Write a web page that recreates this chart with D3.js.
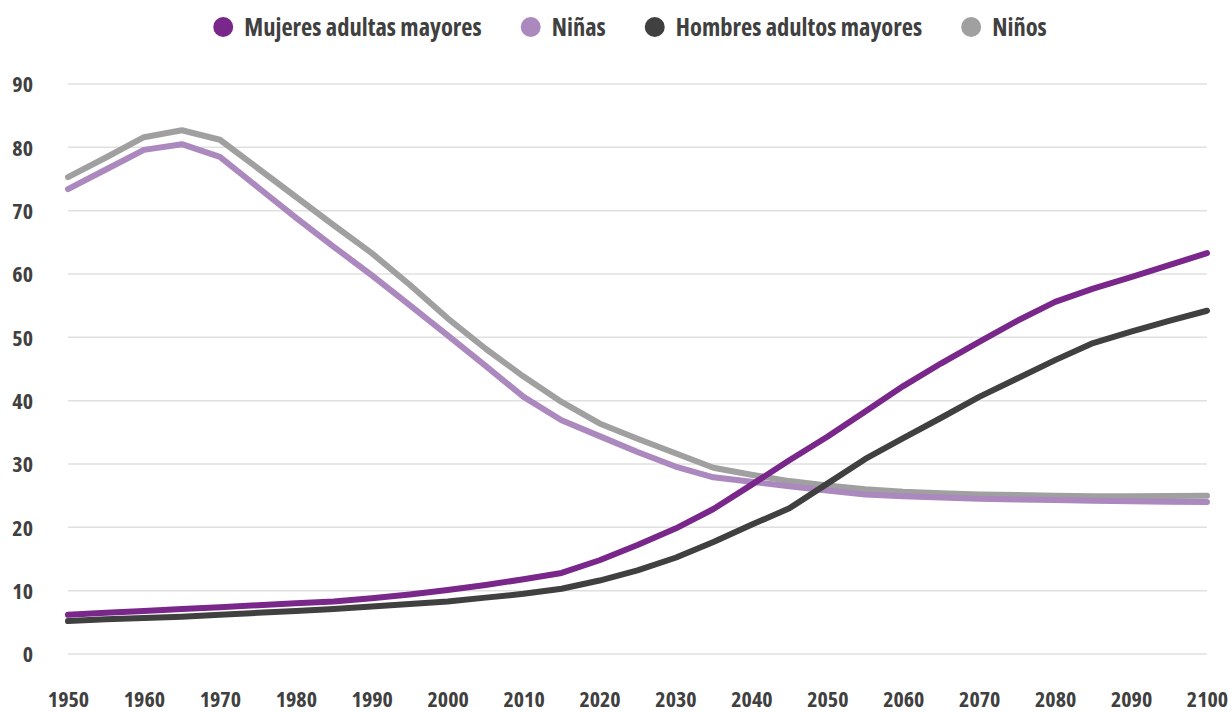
<!DOCTYPE html>
<html>
<head>
<meta charset="utf-8">
<script src="https://cdn.jsdelivr.net/npm/d3@7"></script>
<style>
  html, body { margin: 0; padding: 0; background: #fff; }
  svg text { font-family: "Open Sans", "Liberation Sans Narrow", sans-serif; font-weight: 700; font-stretch: condensed; fill: #404040; }
</style>
</head>
<body>
<svg id="chart" width="1231" height="713"></svg>
<script>
const years = [1950,1955,1960,1965,1970,1975,1980,1985,1990,1995,2000,2005,2010,2015,2020,2025,2030,2035,2040,2045,2050,2055,2060,2065,2070,2075,2080,2085,2090,2095,2100];
const mujeres = [6.2,6.5,6.8,7.1,7.4,7.7,8.0,8.3,8.8,9.4,10.1,10.9,11.8,12.8,14.8,17.2,19.8,22.9,26.7,30.6,34.3,38.3,42.3,45.9,49.3,52.6,55.6,57.7,59.5,61.4,63.3];
const ninas = [73.4,76.5,79.6,80.5,78.5,73.7,68.9,64.3,59.8,55.1,50.3,45.5,40.6,36.9,34.4,31.9,29.6,27.9,27.2,26.5,25.8,25.2,24.9,24.7,24.5,24.4,24.3,24.2,24.1,24.05,24.0];
const hombres = [5.2,5.5,5.7,5.9,6.2,6.5,6.8,7.1,7.5,7.9,8.3,8.9,9.5,10.3,11.6,13.2,15.2,17.7,20.4,23.0,26.9,30.8,34.1,37.3,40.6,43.5,46.4,49.1,50.9,52.6,54.2];
const ninos = [75.3,78.4,81.6,82.7,81.2,76.7,72.2,67.7,63.3,58.3,53.0,48.2,43.8,39.8,36.4,34.0,31.7,29.4,28.3,27.3,26.6,26.0,25.6,25.4,25.2,25.1,25.0,24.9,24.9,24.95,25.0];
const seriesNames = ["Mujeres adultas mayores","Niñas","Hombres adultos mayores","Niños"];
const seriesColors = ["#7a278b","#ab88bd","#404040","#a0a0a0"];
const yTicks = [0,10,20,30,40,50,60,70,80,90];
const xTicks = [1950,1960,1970,1980,1990,2000,2010,2020,2030,2040,2050,2060,2070,2080,2090,2100];

const seriesData = [mujeres, ninas, hombres, ninos];
const drawOrder = [3,1,2,0];

const svg = d3.select("#chart");
const x = d3.scaleLinear().domain([1950,2100]).range([68,1207]);
const y = d3.scaleLinear().domain([0,90]).range([654,84]);

svg.append("g").selectAll("line").data(yTicks).join("line")
  .attr("x1", x(1950)).attr("x2", x(2100))
  .attr("y1", d => y(d)).attr("y2", d => y(d))
  .attr("stroke", "#e0e0e0").attr("stroke-width", 1.5);

const yAxis = d3.axisLeft(y).tickValues(yTicks).tickSize(0).tickPadding(0).tickFormat(d3.format("d"));
const gy = svg.append("g").attr("transform", "translate(33,0)").call(yAxis);
gy.select(".domain").remove();
gy.selectAll("text").style("font-size","22px").attr("dy","0.35em");

const xAxis = d3.axisBottom(x).tickValues(xTicks).tickSize(0).tickPadding(0).tickFormat(d3.format("d"));
const gx = svg.append("g").attr("transform", "translate(0,707)").call(xAxis);
gx.select(".domain").remove();
gx.selectAll("text").style("font-size","22px").attr("dy","0");

const line = d3.line().x((d,i) => x(years[i])).y(d => y(d));
svg.append("g").selectAll("path").data(drawOrder).join("path")
  .attr("d", i => line(seriesData[i]))
  .attr("fill", "none")
  .attr("stroke", i => seriesColors[i])
  .attr("stroke-width", 6)
  .attr("stroke-linecap", "round")
  .attr("stroke-linejoin", "round");

// legend
const legend = svg.append("g");
const items = legend.selectAll("g").data(seriesNames).join("g");
items.append("circle").attr("r", 10).attr("cy", 27).attr("cx", 0)
  .attr("fill", (d,i) => seriesColors[i]);
items.append("text").text(d => d).attr("x", 21).attr("y", 27).attr("dy","0.35em")
  .style("font-size","24.5px");
const widths = [];
items.each(function(){ widths.push(this.querySelector("text").getComputedTextLength()); });
const gap = 39;
const total = widths.reduce((a,b)=>a+b,0) + widths.length*31 + (widths.length-1)*gap;
let start = 630 - total/2 + 10;
items.attr("transform", (d,i) => {
  const t = `translate(${start},0)`;
  start += 21 + widths[i] + gap + 10;
  return t;
});
</script>
</body>
</html>
